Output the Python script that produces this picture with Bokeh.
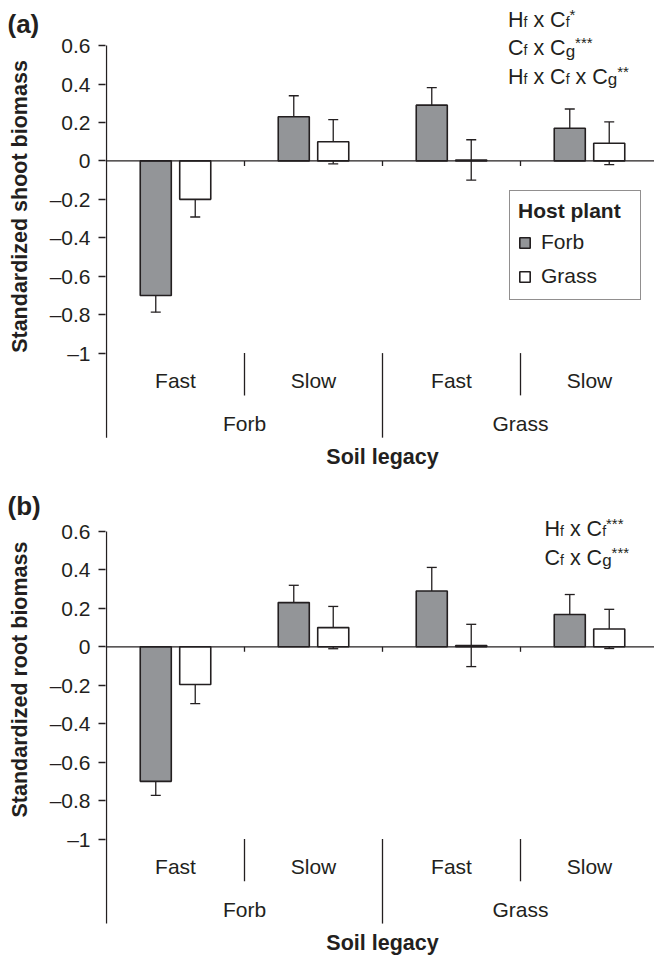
from math import pi
from bokeh.plotting import figure
from bokeh.models import (ColumnDataSource, Range1d, FixedTicker, Whisker, TeeHead,
                          Legend, LegendItem, Span)
from bokeh.layouts import column, row
from bokeh.embed import file_html
from bokeh.resources import INLINE
from bokeh.core.properties import value

# ---------------- data ----------------
legacy_group = ["Forb", "Forb", "Grass", "Grass"]      # soil legacy: conditioning plant
legacy_speed = ["Fast", "Slow", "Fast", "Slow"]        # soil legacy: growth strategy
host_plants = ["Forb", "Grass"]

shoot_forb = [-0.70, 0.23, 0.29, 0.17]
shoot_forb_se = [0.087, 0.109, 0.091, 0.100]
shoot_grass = [-0.20, 0.10, 0.005, 0.092]
shoot_grass_se = [0.092, 0.115, 0.105, 0.111]

root_forb = [-0.70, 0.23, 0.29, 0.168]
root_forb_se = [0.073, 0.090, 0.123, 0.104]
root_grass = [-0.196, 0.10, 0.007, 0.093]
root_grass_se = [0.100, 0.110, 0.110, 0.102]

y_ticks = [-1, -0.8, -0.6, -0.4, -0.2, 0, 0.2, 0.4, 0.6]
y_tick_labels = ["\u20131", "\u20130.8", "\u20130.6", "\u20130.4", "\u20130.2",
                 "0", "0.2", "0.4", "0.6"]

panel_tags = ["(a)", "(b)"]
y_titles = ["Standardized shoot biomass", "Standardized root biomass"]
x_title = "Soil legacy"

# statistics notes: (text, kind) pieces; kind m=main, s=subscript f, g=subscript g, p=stars
notes_a = [
    [("H", "m"), ("f", "s"), ("x", "x"), ("C", "m"), ("f", "s"), ("*", "p")],
    [("C", "m"), ("f", "s"), ("x", "x"), ("C", "m"), ("g", "g"), ("***", "p")],
    [("H", "m"), ("f", "s"), ("x", "x"), ("C", "m"), ("f", "s"), ("x", "x"),
     ("C", "m"), ("g", "g"), ("**", "p")],
]
notes_b = [
    [("H", "m"), ("f", "s"), ("x", "x"), ("C", "m"), ("f", "s"), ("***", "p")],
    [("C", "m"), ("f", "s"), ("x", "x"), ("C", "m"), ("g", "g"), ("***", "p")],
]

# ---------------- style / geometry ----------------
FONT = "Liberation Sans"
INK = "#231f20"
FORB_FILL = "#939598"
GRASS_FILL = "#ffffff"

PAGE_W, PAGE_H = 654, 957
STRIP_W = 46                 # left strip holding panel tags and y titles
AXIS_BORDER = 57             # room for tick labels
FRAME_LEFT = STRIP_W + AXIS_BORDER          # 103
AXIS_X = 104                 # page x of y axis line (data x = 0)
CAT_W = 138.0
FRAME_W = PAGE_W - FRAME_LEFT
PX_PER_UNIT = 192.2
DODGE = 0.143
BAR_W = 0.225
AXIS_BOTTOM = -1.44
FIX = 7                      # baseline correction for alphabetic text

PANEL_TOP = [0, 486]
PANEL_H = [486, 471]
ZERO_PY = [160.4, 646.3]

MAIN = 21.5
SPEC = {"m": (MAIN, 0.0), "x": (MAIN, 0.0), "s": (14, 2.0), "g": (17, 3.0), "p": (15, -5.5)}
ADV = {"H": .722, "C": .722, "x": .5, "f": .278, "g": .556, "*": .389}
SPACE = .278


def make_strip():
    s = figure(frame_width=STRIP_W, frame_height=PAGE_H,
               x_range=Range1d(0, STRIP_W), y_range=Range1d(0, PAGE_H),
               x_axis_type=None, y_axis_type=None, output_backend="svg",
               toolbar_location=None, title=None, min_border=0)
    s.outline_line_color = None
    s.grid.visible = False
    tag_base = [30.5, 512]
    title_mid = [206, 679]
    s.text(x=[7, 7], y=[PAGE_H - (b - FIX) for b in tag_base], text=panel_tags,
           text_font=value(FONT), text_font_style="bold", text_font_size="26px",
           text_color=INK, text_align="left", text_baseline="alphabetic")
    s.text(x=[19.5, 19.5], y=[PAGE_H - m for m in title_mid], text=y_titles, angle=pi / 2,
           text_font=value(FONT), text_font_style="bold", text_font_size="21.5px",
           text_color=INK, text_align="center", text_baseline="middle")
    return s


def make_panel(idx, forb, forb_se, grass, grass_se, notes, note_x0, note_base,
               xlabel_base, show_legend):
    top_py = PANEL_TOP[idx]
    h = PANEL_H[idx]
    zero = ZERO_PY[idx]
    y_top = (zero - top_py) / PX_PER_UNIT
    y_bot = -(top_py + h - zero) / PX_PER_UNIT

    def dx(page_x):
        return (page_x - AXIS_X) / CAT_W

    def dy(page_y):
        return (zero - page_y) / PX_PER_UNIT

    centers = [i + 0.5 for i in range(len(legacy_speed))]
    src = ColumnDataSource(dict(
        x_forb=[c - DODGE for c in centers],
        x_grass=[c + DODGE for c in centers],
        forb=forb, grass=grass,
        forb_lo=[v - e for v, e in zip(forb, forb_se)],
        forb_hi=[v + e for v, e in zip(forb, forb_se)],
        grass_lo=[v - e for v, e in zip(grass, grass_se)],
        grass_hi=[v + e for v, e in zip(grass, grass_se)],
    ))

    p = figure(frame_width=FRAME_W, frame_height=h,
               x_range=Range1d(dx(FRAME_LEFT), dx(PAGE_W)), y_range=Range1d(y_bot, y_top),
               x_axis_type=None, output_backend="svg", toolbar_location=None,
               title=None, min_border_left=AXIS_BORDER, min_border_right=0,
               min_border_top=0, min_border_bottom=0)
    p.outline_line_color = None
    p.grid.visible = False
    p.background_fill_color = "white"
    p.border_fill_color = "white"

    ax = p.yaxis[0]
    ax.ticker = FixedTicker(ticks=y_ticks)
    ax.major_label_overrides = dict(zip(y_ticks, y_tick_labels))
    ax.minor_tick_line_color = None
    ax.major_tick_out = 7
    ax.major_tick_in = 0
    ax.major_label_standoff = 8
    ax.major_label_text_font = FONT
    ax.major_label_text_font_size = "21px"
    ax.major_label_text_color = INK
    ax.axis_line_color = None
    ax.major_tick_line_color = INK
    ax.major_tick_line_width = 1.3

    # y axis line (runs from the top tick down through the category area)
    p.segment(x0=[0], y0=[AXIS_BOTTOM], x1=[0], y1=[max(y_ticks)],
              line_color=INK, line_width=1.3)
    p.add_layout(Span(location=0, dimension="width", line_color=INK, line_width=1.3))

    r_forb = p.vbar(x="x_forb", top="forb", bottom=0, width=BAR_W, source=src,
                    fill_color=FORB_FILL, line_color=INK, line_width=1.6)
    r_grass = p.vbar(x="x_grass", top="grass", bottom=0, width=BAR_W, source=src,
                     fill_color=GRASS_FILL, line_color=INK, line_width=1.6)

    for base, lo, hi in (("x_forb", "forb_lo", "forb_hi"), ("x_grass", "grass_lo", "grass_hi")):
        p.add_layout(Whisker(source=src, base=base, lower=lo, upper=hi,
                             line_color=INK, line_width=1.3,
                             upper_head=TeeHead(size=10, line_color=INK, line_width=1.3),
                             lower_head=TeeHead(size=10, line_color=INK, line_width=1.3)))

    # category boundaries
    bounds = list(range(1, len(legacy_speed)))
    major = [b for b in bounds if legacy_group[b] != legacy_group[b - 1]]
    minor = [b for b in bounds if b not in major]
    tick_len = 5 / PX_PER_UNIT
    p.segment(x0=bounds, y0=[0] * len(bounds), x1=bounds, y1=[-tick_len] * len(bounds),
              line_color=INK, line_width=1.3)
    p.segment(x0=minor, y0=[-1] * len(minor), x1=minor, y1=[-1.22] * len(minor),
              line_color=INK, line_width=1.3)
    p.segment(x0=major, y0=[-1] * len(major), x1=major, y1=[AXIS_BOTTOM] * len(major),
              line_color=INK, line_width=1.3)

    fix = FIX / PX_PER_UNIT
    p.text(x=centers, y=[-1.18 + fix] * len(centers), text=legacy_speed,
           text_font=value(FONT), text_font_size="21px", text_color=INK,
           text_align="center", text_baseline="alphabetic")
    groups = list(dict.fromkeys(legacy_group))
    gx = [sum(c for c, g in zip(centers, legacy_group) if g == gg) /
          legacy_group.count(gg) for gg in groups]
    p.text(x=gx, y=[-1.405 + fix] * len(gx), text=groups,
           text_font=value(FONT), text_font_size="21px", text_color=INK,
           text_align="center", text_baseline="alphabetic")

    p.text(x=[dx(380)], y=[dy(xlabel_base - FIX)], text=[x_title],
           text_font=value(FONT), text_font_style="bold", text_font_size="21.5px",
           text_color=INK, text_align="center", text_baseline="alphabetic")

    # statistics notes (sub/superscripts built from pieces, laid out by advance widths)
    for line, baseline in zip(notes, note_base):
        cur = note_x0
        for txt, kind in line:
            size, shift = SPEC[kind]
            if kind == "x":
                cur += SPACE * MAIN
            p.text(x=[dx(cur)], y=[dy(baseline + shift - FIX)], text=[txt],
                   text_font=value(FONT), text_font_size=f"{size}px", text_color=INK,
                   text_align="left", text_baseline="alphabetic")
            cur += sum(ADV[c] for c in txt) * size
            if kind == "x":
                cur += SPACE * MAIN

    if show_legend:
        leg = Legend(items=[LegendItem(label=host_plants[0], renderers=[r_forb]),
                            LegendItem(label=host_plants[1], renderers=[r_grass])],
                     title="Host plant", location=(404, top_py + h - 300))
        leg.title_text_font = FONT
        leg.title_text_font_style = "bold"
        leg.title_text_font_size = "21px"
        leg.title_text_color = INK
        leg.title_standoff = 4
        leg.label_text_font = FONT
        leg.label_text_font_size = "21px"
        leg.label_text_color = INK
        leg.glyph_width = 13
        leg.glyph_height = 13
        leg.label_standoff = 10
        leg.label_height = 30
        leg.label_width = 91
        leg.spacing = 4
        leg.padding = 8
        leg.margin = 0
        leg.border_line_color = INK
        leg.border_line_width = 1.5
        leg.background_fill_color = "white"
        leg.background_fill_alpha = 1.0
        p.add_layout(leg, "center")
    return p


strip = make_strip()
p1 = make_panel(0, shoot_forb, shoot_forb_se, shoot_grass, shoot_grass_se,
                notes_a, 505.5, [26.7, 54.5, 83.3], 463, True)
p2 = make_panel(1, root_forb, root_forb_se, root_grass, root_grass_se,
                notes_b, 542, [535, 564], 949, False)

layout = row(strip, column(p1, p2, spacing=0), spacing=0)
open("out.html", "w").write(file_html(layout, INLINE))
